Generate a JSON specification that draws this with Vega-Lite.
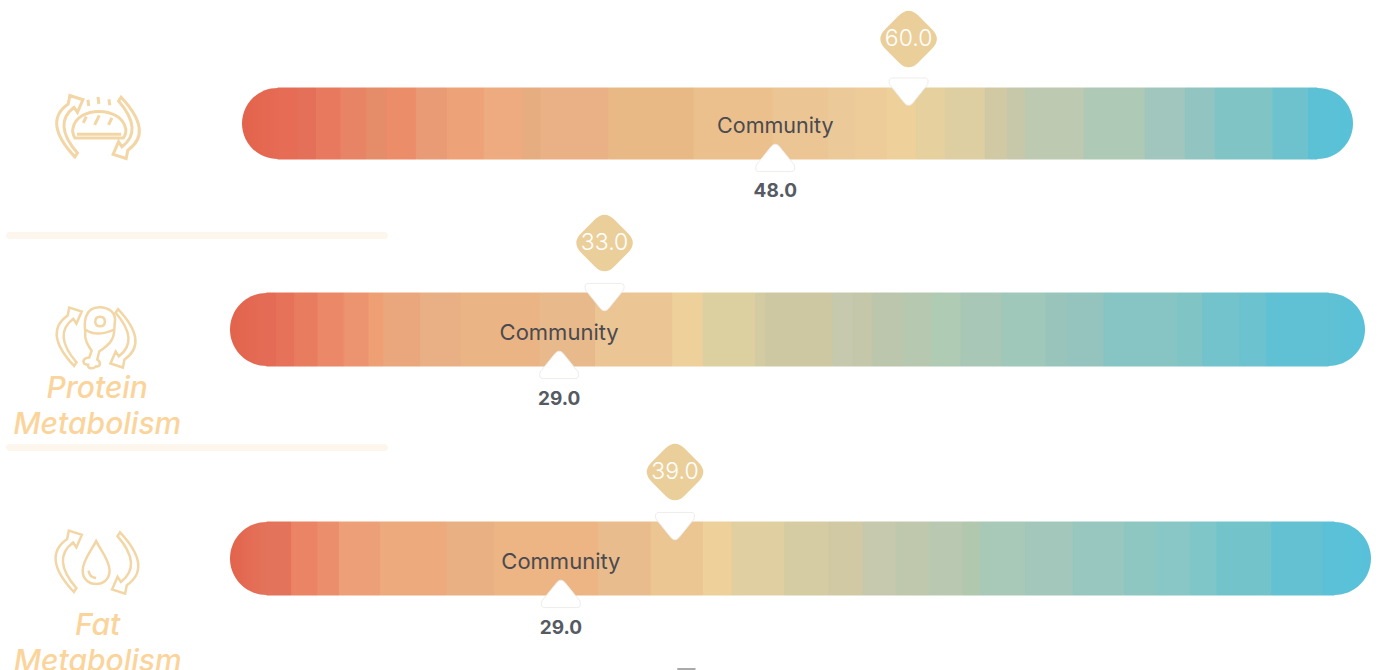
{"$schema":"https://vega.github.io/schema/vega-lite/v6.json","padding":0,"spacing":0,"background":"white","config":{"view":{"stroke":null},"axis":{"disable":true}},
"vconcat":[
{"width":1380,"height":208,"data":{"values":[{"metric":"Carbohydrate Metabolism","you":60,"community":48}]},
"layer":[
{"mark":{"type":"rect","cornerRadius":35.5,"color":{"gradient":"linear","stops":[{"offset":0,"color":"#e3634c"},{"offset":0.032,"color":"#e66b54"},{"offset":0.968,"color":"#5cc1d5"},{"offset":1,"color":"#58c1d8"}]}},"encoding":{"x":{"datum":0,"type":"quantitative","scale":{"domain":[0,100],"range":[242,1353],"nice":false,"zero":false}},"x2":{"datum":100},"y":{"datum":0,"type":"quantitative","scale":{"domain":[0,1],"range":[159,88],"nice":false,"zero":false}},"y2":{"datum":1}}},
{"data":{"values":[{"a":3.2,"b":5,"c":"#e66c55"},{"a":5,"b":6.7,"c":"#e4705a"},{"a":6.7,"b":8.9,"c":"#e8795f"},{"a":8.9,"b":11.2,"c":"#e88466"},{"a":11.2,"b":13.05,"c":"#e58c68"},{"a":13.05,"b":15.7,"c":"#ec8d69"},{"a":15.7,"b":18.5,"c":"#e99b76"},{"a":18.5,"b":21.8,"c":"#eea277"},{"a":21.8,"b":25.3,"c":"#eeab80"},{"a":25.3,"b":26.9,"c":"#e6ad80"},{"a":26.9,"b":33,"c":"#ebb186"},{"a":33,"b":40.7,"c":"#e9b985"},{"a":40.7,"b":47.8,"c":"#ecc08c"},{"a":47.8,"b":52.8,"c":"#ebc594"},{"a":52.8,"b":55.2,"c":"#ecc998"},{"a":55.2,"b":58.05,"c":"#edcc99"},{"a":58.05,"b":60.7,"c":"#eed19a"},{"a":60.7,"b":63.3,"c":"#e5d09e"},{"a":63.3,"b":66.9,"c":"#ddcfa1"},{"a":66.9,"b":68.9,"c":"#d0c9a3"},{"a":68.9,"b":70.5,"c":"#c7c8aa"},{"a":70.5,"b":75.8,"c":"#bdc9b0"},{"a":75.8,"b":81.3,"c":"#aec9b5"},{"a":81.3,"b":84.9,"c":"#a0c6bd"},{"a":84.9,"b":87.6,"c":"#92c5c1"},{"a":87.6,"b":92.8,"c":"#80c4c6"},{"a":92.8,"b":96,"c":"#6dc2cd"},{"a":96,"b":96.8,"c":"#5cc1d5"}]},"mark":{"type":"rect","strokeWidth":1},"encoding":{"x":{"field":"a","type":"quantitative"},"x2":{"field":"b"},"y":{"datum":0,"type":"quantitative"},"y2":{"datum":1},"fill":{"field":"c","type":"nominal","scale":null},"stroke":{"field":"c","type":"nominal","scale":null}}},
{"mark":{"type":"point","shape":"M -0.3 -0.72 Q 0 -1.02 0.3 -0.72 L 0.72 -0.3 Q 1.02 0 0.72 0.3 L 0.3 0.72 Q 0 1.02 -0.3 0.72 L -0.72 0.3 Q -1.02 0 -0.72 -0.3 Z","filled":true,"fill":"#ebcf9b","stroke":null,"opacity":1,"size":4225},"encoding":{"x":{"field":"you","type":"quantitative"},"y":{"datum":1.69,"type":"quantitative"}}},
{"mark":{"type":"text","font":"Inter","fontSize":23,"fontWeight":300,"color":"#ffffff"},"encoding":{"x":{"field":"you","type":"quantitative"},"y":{"datum":1.69,"type":"quantitative"},"text":{"field":"you","type":"quantitative","format":".1f"}}},
{"mark":{"type":"point","shape":"M -0.8 -0.68 H 0.8 Q 1.05 -0.68 0.95 -0.35 L 0.2 0.58 Q 0 0.8 -0.2 0.58 L -0.95 -0.35 Q -1.05 -0.68 -0.8 -0.68 Z","filled":true,"fill":"#ffffff","stroke":"#efedea","strokeWidth":1,"opacity":1,"size":1600},"encoding":{"x":{"field":"you","type":"quantitative"},"y":{"datum":0.95,"type":"quantitative"}}},
{"mark":{"type":"point","shape":"M -0.8 0.68 H 0.8 Q 1.05 0.68 0.95 0.35 L 0.2 -0.58 Q 0 -0.8 -0.2 -0.58 L -0.95 0.35 Q -1.05 0.68 -0.8 0.68 Z","filled":true,"fill":"#ffffff","stroke":"#efedea","strokeWidth":1,"opacity":1,"size":1600},"encoding":{"x":{"field":"community","type":"quantitative"},"y":{"datum":0.014,"type":"quantitative"}}},
{"mark":{"type":"text","font":"Inter","fontSize":21.5,"color":"#4a4a4f","text":"Community"},"encoding":{"x":{"field":"community","type":"quantitative"},"y":{"datum":0.445,"type":"quantitative"}}},
{"mark":{"type":"text","font":"Inter","fontSize":19,"fontWeight":700,"color":"#555a63"},"encoding":{"x":{"field":"community","type":"quantitative"},"y":{"datum":-0.457,"type":"quantitative"},"text":{"field":"community","type":"quantitative","format":".1f"}}},
{"mark":{"type":"point","shape":"M -0.55 0.71 Q -1.33 -0.12 -0.71 -0.55 L -0.67 -0.75 L -0.36 -0.65 L -0.49 -0.35 L -0.57 -0.47 Q -1.09 -0.075 -0.49 0.62 Z M 0.55 -0.71 Q 1.33 0.12 0.71 0.55 L 0.67 0.75 L 0.36 0.65 L 0.49 0.35 L 0.57 0.47 Q 1.09 0.075 0.49 -0.62 Z M -0.55 0.26 Q -0.62 0.14 -0.6 0.04 C -0.55 -0.25 -0.25 -0.37 0.02 -0.37 C 0.3 -0.37 0.6 -0.25 0.66 0.04 Q 0.68 0.16 0.6 0.26 Z M -0.5 0.17 H 0.55 M -0.35 -0.1 L -0.28 -0.25 M -0.08 -0.05 L 0.03 -0.28 M 0.25 -0.05 L 0.33 -0.22 M -0.22 -0.5 L -0.24 -0.65 M 0.02 -0.55 L 0 -0.72 M 0.28 -0.52 L 0.26 -0.66","filled":false,"stroke":"#f3d6a5","strokeWidth":3,"opacity":1,"size":7056},"encoding":{"x":{"datum":-12.96,"type":"quantitative"},"y":{"datum":0.45,"type":"quantitative"}}}
]},
{"width":1380,"height":232,"data":{"values":[{"metric":"Protein Metabolism","label":"Protein|Metabolism","you":33,"community":29}]},
"layer":[
{"mark":{"type":"rect","cornerRadius":3.5,"color":"#fcf6ec"},"encoding":{"x":{"datum":-19.74,"type":"quantitative","scale":{"domain":[0,100],"range":[230,1365],"nice":false,"zero":false}},"x2":{"datum":13.92},"y":{"datum":1.836,"type":"quantitative","scale":{"domain":[0,1],"range":[158,85],"nice":false,"zero":false}},"y2":{"datum":1.74}}},
{"mark":{"type":"rect","cornerRadius":36.5,"color":{"gradient":"linear","stops":[{"offset":0,"color":"#e3634c"},{"offset":0.032,"color":"#e46c56"},{"offset":0.968,"color":"#60c1d4"},{"offset":1,"color":"#58c1d9"}]}},"encoding":{"x":{"datum":0,"type":"quantitative"},"x2":{"datum":100},"y":{"datum":0,"type":"quantitative"},"y2":{"datum":1}}},
{"data":{"values":[{"a":3.2,"b":4.1,"c":"#e46c56"},{"a":4.1,"b":5.7,"c":"#e57259"},{"a":5.7,"b":7.75,"c":"#e87c5f"},{"a":7.75,"b":10.05,"c":"#ea8867"},{"a":10.05,"b":12.25,"c":"#ec946f"},{"a":12.25,"b":13.55,"c":"#ee9f74"},{"a":13.55,"b":16.8,"c":"#eaa77d"},{"a":16.8,"b":20.4,"c":"#e9b086"},{"a":20.4,"b":27.3,"c":"#ebb484"},{"a":27.3,"b":32.2,"c":"#e8b98a"},{"a":32.2,"b":39,"c":"#ebc594"},{"a":39,"b":41.7,"c":"#eed09a"},{"a":41.7,"b":46.3,"c":"#ddd0a0"},{"a":46.3,"b":47.2,"c":"#d3cca3"},{"a":47.2,"b":53.1,"c":"#cdc8a1"},{"a":53.1,"b":54.9,"c":"#c6c9ad"},{"a":54.9,"b":56.6,"c":"#c4c7a9"},{"a":56.6,"b":59.3,"c":"#bbc6ac"},{"a":59.3,"b":61.85,"c":"#b6c9b0"},{"a":61.85,"b":64.4,"c":"#b0cbb4"},{"a":64.4,"b":68,"c":"#a8c7b7"},{"a":68,"b":71.9,"c":"#a0c8ba"},{"a":71.9,"b":73.8,"c":"#98c4bb"},{"a":73.8,"b":77,"c":"#95c4bf"},{"a":77,"b":83.5,"c":"#86c5c3"},{"a":83.5,"b":85.7,"c":"#80c4c6"},{"a":85.7,"b":89,"c":"#72c3cb"},{"a":89,"b":91.3,"c":"#6cc2cf"},{"a":91.3,"b":96.8,"c":"#60c1d4"}]},"mark":{"type":"rect","strokeWidth":1},"encoding":{"x":{"field":"a","type":"quantitative"},"x2":{"field":"b"},"y":{"datum":0,"type":"quantitative"},"y2":{"datum":1},"fill":{"field":"c","type":"nominal","scale":null},"stroke":{"field":"c","type":"nominal","scale":null}}},
{"mark":{"type":"point","shape":"M -0.3 -0.72 Q 0 -1.02 0.3 -0.72 L 0.72 -0.3 Q 1.02 0 0.72 0.3 L 0.3 0.72 Q 0 1.02 -0.3 0.72 L -0.72 0.3 Q -1.02 0 -0.72 -0.3 Z","filled":true,"fill":"#ebcf9b","stroke":null,"opacity":1,"size":4225},"encoding":{"x":{"field":"you","type":"quantitative"},"y":{"datum":1.685,"type":"quantitative"}}},
{"mark":{"type":"text","font":"Inter","fontSize":23,"fontWeight":300,"color":"#ffffff"},"encoding":{"x":{"field":"you","type":"quantitative"},"y":{"datum":1.685,"type":"quantitative"},"text":{"field":"you","type":"quantitative","format":".1f"}}},
{"mark":{"type":"point","shape":"M -0.8 -0.68 H 0.8 Q 1.05 -0.68 0.95 -0.35 L 0.2 0.58 Q 0 0.8 -0.2 0.58 L -0.95 -0.35 Q -1.05 -0.68 -0.8 -0.68 Z","filled":true,"fill":"#ffffff","stroke":"#efedea","strokeWidth":1,"opacity":1,"size":1600},"encoding":{"x":{"field":"you","type":"quantitative"},"y":{"datum":0.945,"type":"quantitative"}}},
{"mark":{"type":"point","shape":"M -0.8 0.68 H 0.8 Q 1.05 0.68 0.95 0.35 L 0.2 -0.58 Q 0 -0.8 -0.2 -0.58 L -0.95 0.35 Q -1.05 0.68 -0.8 0.68 Z","filled":true,"fill":"#ffffff","stroke":"#efedea","strokeWidth":1,"opacity":1,"size":1600},"encoding":{"x":{"field":"community","type":"quantitative"},"y":{"datum":0.014,"type":"quantitative"}}},
{"mark":{"type":"text","font":"Inter","fontSize":22,"color":"#4a4a4f","text":"Community"},"encoding":{"x":{"field":"community","type":"quantitative"},"y":{"datum":0.446,"type":"quantitative"}}},
{"mark":{"type":"text","font":"Inter","fontSize":19,"fontWeight":700,"color":"#555a63"},"encoding":{"x":{"field":"community","type":"quantitative"},"y":{"datum":-0.458,"type":"quantitative"},"text":{"field":"community","type":"quantitative","format":".1f"}}},
{"mark":{"type":"point","shape":"M -0.55 0.71 Q -1.33 -0.12 -0.71 -0.55 L -0.67 -0.75 L -0.36 -0.65 L -0.49 -0.35 L -0.57 -0.47 Q -1.09 -0.075 -0.49 0.62 Z M 0.55 -0.71 Q 1.33 0.12 0.71 0.55 L 0.67 0.75 L 0.36 0.65 L 0.49 0.35 L 0.57 0.47 Q 1.09 0.075 0.49 -0.62 Z M 0.08 -0.76 C 0.35 -0.76 0.5 -0.6 0.47 -0.4 C 0.45 -0.2 0.47 -0.05 0.39 0.06 C 0.32 0.2 0.18 0.27 0.08 0.35 L 0.03 0.55 C 0.12 0.6 0.12 0.75 0 0.72 C -0.08 0.8 -0.22 0.78 -0.2 0.68 C -0.36 0.68 -0.36 0.52 -0.17 0.5 L -0.11 0.33 C -0.2 0.2 -0.3 0.05 -0.27 -0.15 C -0.3 -0.35 -0.3 -0.76 0.08 -0.76 Z M -0.02 -0.4 Q -0.02 -0.52 0.1 -0.52 Q 0.22 -0.52 0.22 -0.4 Q 0.22 -0.28 0.1 -0.28 Q -0.02 -0.28 -0.02 -0.4 Z M -0.27 -0.2 Q 0 0 0.45 -0.2","filled":false,"stroke":"#f3d6a5","strokeWidth":2.5,"opacity":1,"size":6400},"encoding":{"x":{"datum":-11.8,"type":"quantitative"},"y":{"datum":0.39,"type":"quantitative"}}},
{"mark":{"type":"text","font":"Inter","fontStyle":"italic","fontWeight":500,"fontSize":30,"color":"#fbd49b","lineBreak":"|","lineHeight":36,"baseline":"alphabetic"},"encoding":{"x":{"datum":-11.7,"type":"quantitative"},"y":{"datum":-0.438,"type":"quantitative"},"text":{"field":"label","type":"nominal"}}}
]},
{"width":1380,"height":230,"data":{"values":[{"metric":"Fat Metabolism","label":"Fat|Metabolism","you":39,"community":29}]},
"layer":[
{"mark":{"type":"rect","cornerRadius":3.5,"color":"#fcf6ec"},"encoding":{"x":{"datum":-19.63,"type":"quantitative","scale":{"domain":[0,100],"range":[230,1371],"nice":false,"zero":false}},"x2":{"datum":13.85},"y":{"datum":2.068,"type":"quantitative","scale":{"domain":[0,1],"range":[155,82],"nice":false,"zero":false}},"y2":{"datum":1.973}}},
{"mark":{"type":"rect","cornerRadius":36.5,"color":{"gradient":"linear","stops":[{"offset":0,"color":"#e3634c"},{"offset":0.032,"color":"#e4735b"},{"offset":0.968,"color":"#5ac1d8"},{"offset":1,"color":"#58c1d9"}]}},"encoding":{"x":{"datum":0,"type":"quantitative"},"x2":{"datum":100},"y":{"datum":0,"type":"quantitative"},"y2":{"datum":1}}},
{"data":{"values":[{"a":3.2,"b":5.4,"c":"#e4735b"},{"a":5.4,"b":7.7,"c":"#ea8465"},{"a":7.7,"b":9.6,"c":"#eb8e6b"},{"a":9.6,"b":13.2,"c":"#eda077"},{"a":13.2,"b":19,"c":"#ecaa7d"},{"a":19,"b":23.2,"c":"#e9b083"},{"a":23.2,"b":32.3,"c":"#ecb583"},{"a":32.3,"b":36.9,"c":"#e9bc8d"},{"a":36.9,"b":41.5,"c":"#ebc592"},{"a":41.5,"b":44,"c":"#eed09a"},{"a":44,"b":48.6,"c":"#e0cfa0"},{"a":48.6,"b":52.5,"c":"#d6cca4"},{"a":52.5,"b":55.5,"c":"#d0c9a3"},{"a":55.5,"b":58.4,"c":"#c6c9ad"},{"a":58.4,"b":61.3,"c":"#bfc8ad"},{"a":61.3,"b":64.2,"c":"#b9c9b1"},{"a":64.2,"b":65.8,"c":"#b2c8ae"},{"a":65.8,"b":69.7,"c":"#a9c9b8"},{"a":69.7,"b":73.9,"c":"#a3c8bb"},{"a":73.9,"b":78.4,"c":"#97c7bf"},{"a":78.4,"b":81.3,"c":"#8ec7c2"},{"a":81.3,"b":84.2,"c":"#88c7c6"},{"a":84.2,"b":86.5,"c":"#7fc6c9"},{"a":86.5,"b":91.3,"c":"#72c4ca"},{"a":91.3,"b":95.8,"c":"#64c1d2"},{"a":95.8,"b":96.8,"c":"#5ac1d8"}]},"mark":{"type":"rect","strokeWidth":1},"encoding":{"x":{"field":"a","type":"quantitative"},"x2":{"field":"b"},"y":{"datum":0,"type":"quantitative"},"y2":{"datum":1},"fill":{"field":"c","type":"nominal","scale":null},"stroke":{"field":"c","type":"nominal","scale":null}}},
{"mark":{"type":"point","shape":"M -0.3 -0.72 Q 0 -1.02 0.3 -0.72 L 0.72 -0.3 Q 1.02 0 0.72 0.3 L 0.3 0.72 Q 0 1.02 -0.3 0.72 L -0.72 0.3 Q -1.02 0 -0.72 -0.3 Z","filled":true,"fill":"#ebcf9b","stroke":null,"opacity":1,"size":4225},"encoding":{"x":{"field":"you","type":"quantitative"},"y":{"datum":1.685,"type":"quantitative"}}},
{"mark":{"type":"text","font":"Inter","fontSize":23,"fontWeight":300,"color":"#ffffff"},"encoding":{"x":{"field":"you","type":"quantitative"},"y":{"datum":1.685,"type":"quantitative"},"text":{"field":"you","type":"quantitative","format":".1f"}}},
{"mark":{"type":"point","shape":"M -0.8 -0.68 H 0.8 Q 1.05 -0.68 0.95 -0.35 L 0.2 0.58 Q 0 0.8 -0.2 0.58 L -0.95 -0.35 Q -1.05 -0.68 -0.8 -0.68 Z","filled":true,"fill":"#ffffff","stroke":"#efedea","strokeWidth":1,"opacity":1,"size":1600},"encoding":{"x":{"field":"you","type":"quantitative"},"y":{"datum":0.945,"type":"quantitative"}}},
{"mark":{"type":"point","shape":"M -0.8 0.68 H 0.8 Q 1.05 0.68 0.95 0.35 L 0.2 -0.58 Q 0 -0.8 -0.2 -0.58 L -0.95 0.35 Q -1.05 0.68 -0.8 0.68 Z","filled":true,"fill":"#ffffff","stroke":"#efedea","strokeWidth":1,"opacity":1,"size":1600},"encoding":{"x":{"field":"community","type":"quantitative"},"y":{"datum":0.014,"type":"quantitative"}}},
{"mark":{"type":"text","font":"Inter","fontSize":22,"color":"#4a4a4f","text":"Community"},"encoding":{"x":{"field":"community","type":"quantitative"},"y":{"datum":0.446,"type":"quantitative"}}},
{"mark":{"type":"text","font":"Inter","fontSize":19,"fontWeight":700,"color":"#555a63"},"encoding":{"x":{"field":"community","type":"quantitative"},"y":{"datum":-0.458,"type":"quantitative"},"text":{"field":"community","type":"quantitative","format":".1f"}}},
{"mark":{"type":"point","shape":"M -0.55 0.71 Q -1.33 -0.12 -0.71 -0.55 L -0.67 -0.75 L -0.36 -0.65 L -0.49 -0.35 L -0.57 -0.47 Q -1.09 -0.075 -0.49 0.62 Z M 0.55 -0.71 Q 1.33 0.12 0.71 0.55 L 0.67 0.75 L 0.36 0.65 L 0.49 0.35 L 0.57 0.47 Q 1.09 0.075 0.49 -0.62 Z M -0.02 -0.5 C -0.12 -0.3 -0.34 -0.05 -0.34 0.2 C -0.34 0.42 -0.18 0.52 -0.02 0.52 C 0.14 0.52 0.3 0.42 0.3 0.2 C 0.3 -0.05 0.08 -0.3 -0.02 -0.5 Z M -0.2 0.2 Q -0.18 0.36 -0.02 0.38","filled":false,"stroke":"#f3d6a5","strokeWidth":2.5,"opacity":1,"size":7056},"encoding":{"x":{"datum":-11.66,"type":"quantitative"},"y":{"datum":0.45,"type":"quantitative"}}},
{"mark":{"type":"text","font":"Inter","fontStyle":"italic","fontWeight":500,"fontSize":30,"color":"#fbd49b","lineBreak":"|","lineHeight":36,"baseline":"alphabetic"},"encoding":{"x":{"datum":-11.6,"type":"quantitative"},"y":{"datum":-0.548,"type":"quantitative"},"text":{"field":"label","type":"nominal"}}},
{"mark":{"type":"rect","color":"#aaaaaa"},"encoding":{"x":{"datum":39.2,"type":"quantitative"},"x2":{"datum":40.8},"y":{"datum":-1,"type":"quantitative"},"y2":{"datum":-1.03}}}
]}
]}
